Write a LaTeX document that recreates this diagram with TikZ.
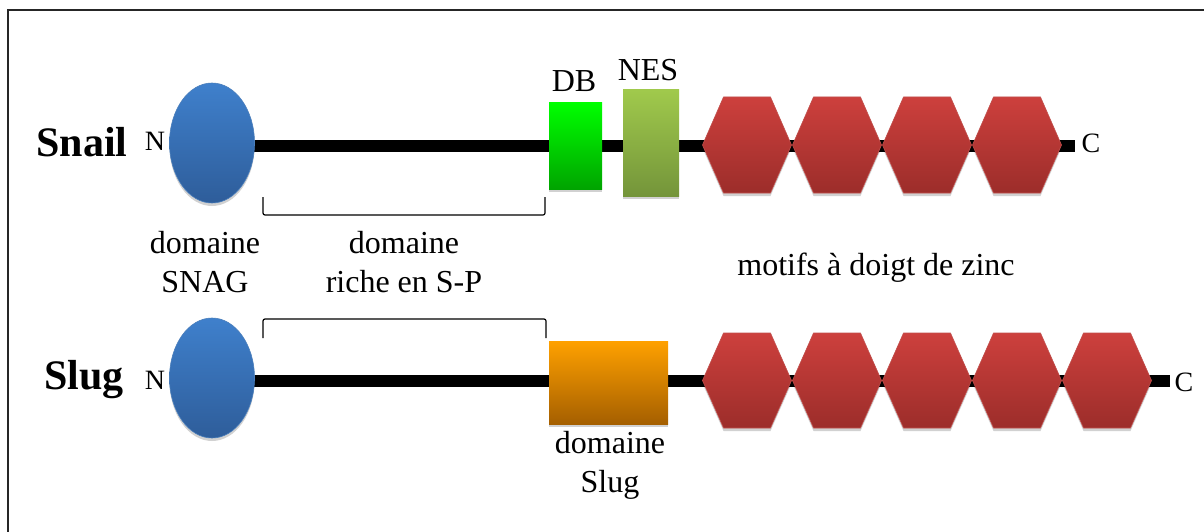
\documentclass[tikz,border=0pt]{standalone}
\usepackage{fontspec}
\setmainfont{Liberation Serif}
\usetikzlibrary{shapes.geometric,shadows}
\definecolor{blueT}{HTML}{3F80CC}
\definecolor{blueB}{HTML}{2E5D9A}
\definecolor{blueD}{HTML}{4A7EBB}
\definecolor{redT}{HTML}{CD403D}
\definecolor{redB}{HTML}{9C2D2A}
\definecolor{redD}{HTML}{C0504D}
\definecolor{greenT}{HTML}{00FF00}
\definecolor{greenB}{HTML}{00A400}
\definecolor{oliveT}{HTML}{A0C94C}
\definecolor{oliveB}{HTML}{74953A}
\definecolor{orangeT}{HTML}{FFA100}
\definecolor{orangeB}{HTML}{A55F00}
\begin{document}
\begin{tikzpicture}[x=1pt,y=-1pt,
  lbl/.style={font=\fontsize{32}{39}\selectfont, align=center, inner sep=0pt, anchor=base},
  protname/.style={font=\fontsize{42}{48}\selectfont\bfseries, inner sep=0pt, anchor=base},
  term/.style={font=\fontsize{28}{30}\selectfont, inner sep=0pt, anchor=base},
  backbone/.style={line width=12pt, black},
  shad/.style={drop shadow={shadow xshift=0pt, shadow yshift=-3pt, opacity=.18, fill=black}},
  snag/.style={ellipse, minimum width=85pt, minimum height=120pt, inner sep=0pt,
    draw=blueD, line width=.6pt, top color=blueT, bottom color=blueB, shad},
  hexa/.style={draw=redD, line width=.6pt, top color=redT, bottom color=redB, shad},
  dbbox/.style={rectangle, inner sep=0pt, top color=greenT, bottom color=greenB, shad},
  nesbox/.style={rectangle, inner sep=0pt, top color=oliveT, bottom color=oliveB, shad},
  slugbox/.style={rectangle, inner sep=0pt, top color=orangeT, bottom color=orangeB, shad},
  brace/.style={line width=1.2pt, rounded corners=2pt},
  frame/.style={line width=1.5pt, black!85}
]
\useasboundingbox (0,0) rectangle (1204,532);
\draw[frame] (8,532) -- (8,10) -- (1204,10);

% ---------- Snail ----------
\coordinate (snailStart) at (212,146);
\coordinate (snailEnd) at (1075,146);
\draw[backbone] (snailStart) -- (snailEnd);
\node[dbbox, minimum width=53pt, minimum height=86pt] (db) at (575.5,146) {};
\node[nesbox, minimum width=56pt, minimum height=106pt] (nes) at (651,143) {};
\foreach \cx in {747,837,927,1017}{
  \path[hexa] (\cx-44.5,145) -- (\cx-23.5,97) -- (\cx+23.5,97) -- (\cx+44.5,145)
    -- (\cx+23.5,193) -- (\cx-23.5,193) -- cycle;
}
\node[snag] (snailN) at (snailStart |- 0,143) {};
\node[protname] (snailName) at (82,157) {Snail};
\node[term] (snailNt) at (155,150) {N};
\node[term] (snailCt) at (1091,152) {C};
\node[lbl] (dbl) at (574,92) {DB};
\node[lbl] (nesl) at (648,81) {NES};
\coordinate (b1a) at (263,197);
\coordinate (b1b) at (545,197);
\draw[brace] (b1a) -- (b1a |- 0,215) -- (b1b |- 0,215) -- (b1b);
\node[lbl] (snagl) at (205,292) {domaine\\SNAG};
\node[lbl] (spl) at (404,292) {domaine\\riche en S-P};
\node[lbl] (zincl) at (876,275) {motifs à doigt de zinc};

% ---------- Slug ----------
\coordinate (slugStart) at (212,381);
\coordinate (slugEnd) at (1170,381);
\draw[backbone] (slugStart) -- (slugEnd);
\node[slugbox, minimum width=119pt, minimum height=83pt] (slugd) at (608.5,382.5) {};
\foreach \cx in {747,837,927,1017,1107}{
  \path[hexa] (\cx-44.5,380.5) -- (\cx-23.5,333) -- (\cx+23.5,333) -- (\cx+44.5,380.5)
    -- (\cx+23.5,428) -- (\cx-23.5,428) -- cycle;
}
\node[snag] (slugN) at (slugStart |- 0,378) {};
\node[protname] (slugName) at (84,389) {Slug};
\node[term] (slugNt) at (155,389) {N};
\node[term] (slugCt) at (1184,391) {C};
\coordinate (b2a) at (263,338);
\coordinate (b2b) at (546,338);
\draw[brace] (b2a) -- (b2a |- 0,319) -- (b2b |- 0,319) -- (b2b);
\node[lbl] (slugl) at (610,492) {domaine\\Slug};
\end{tikzpicture}
\end{document}
